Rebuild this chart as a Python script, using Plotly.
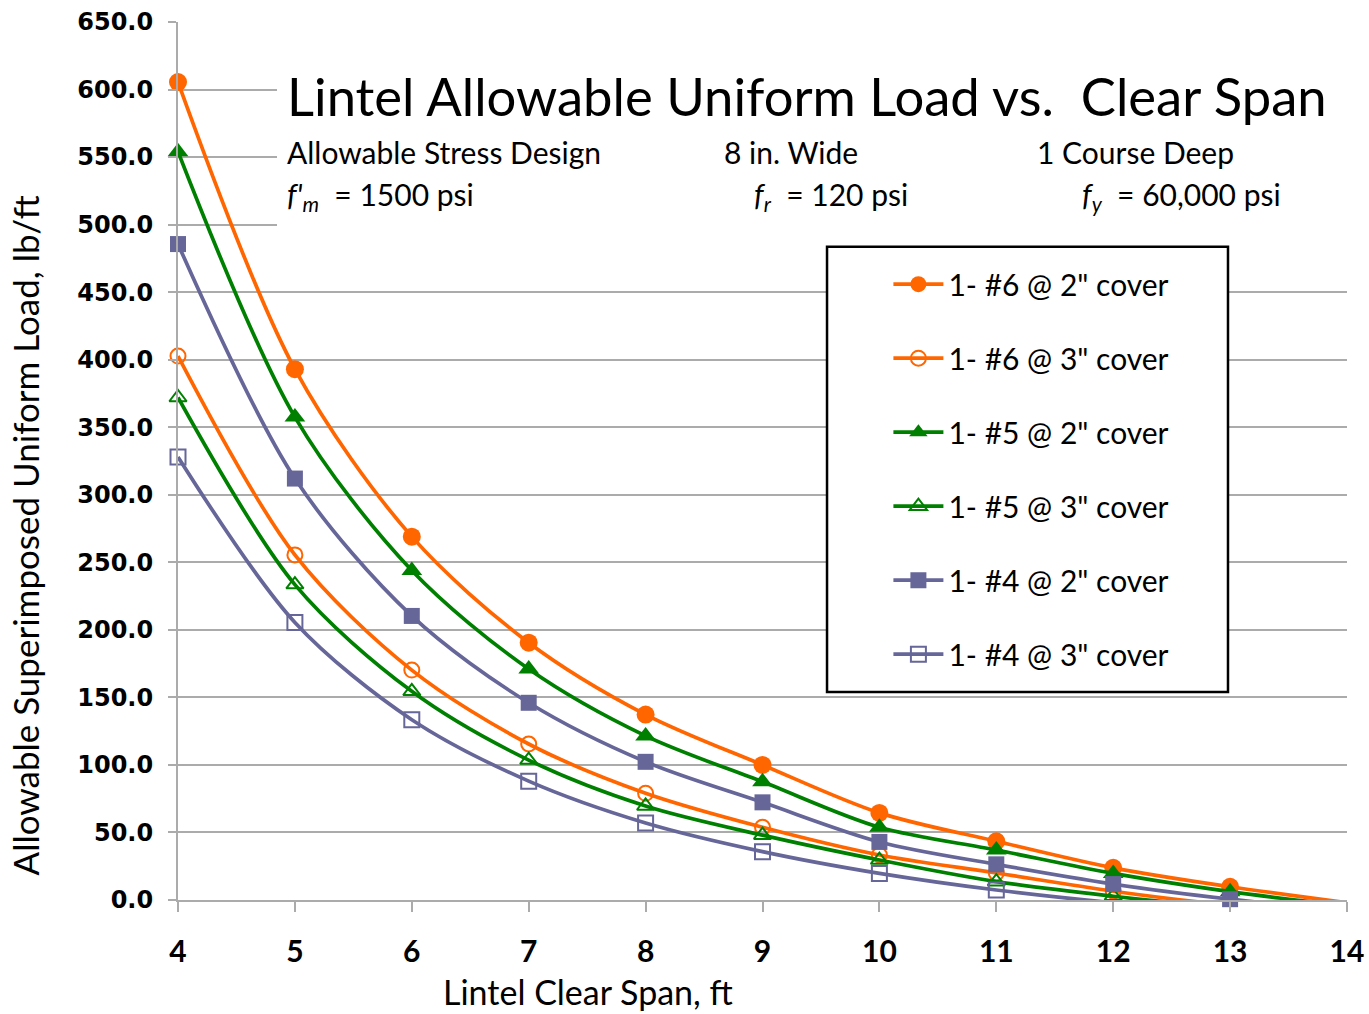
import plotly.graph_objects as go

# span, ft
span = [4, 5, 6, 7, 8, 9, 10, 11, 12, 13, 14]

# allowable superimposed uniform load, lb/ft
bar6_2in = [605.5, 393.0, 269.0, 190.5, 137.3, 100.0, 64.5, 43.5, 23.8, 9.8, -2.0]
bar6_3in = [402.7, 255.5, 170.2, 115.5, 79.0, 53.8, 33.3, 20.0, 6.5, -4.0, -12.0]
bar5_2in = [554.0, 357.5, 244.0, 171.0, 121.5, 87.5, 53.8, 37.0, 19.7, 6.2, -4.4]
bar5_3in = [372.0, 233.5, 154.5, 103.6, 69.6, 48.0, 29.6, 13.6, 2.8, -6.0, -13.0]
bar4_2in = [485.6, 312.0, 210.3, 146.0, 102.3, 72.3, 43.0, 26.4, 11.8, 0.6, -8.0]
bar4_3in = [328.0, 205.5, 133.5, 88.0, 57.0, 35.8, 19.7, 7.4, -2.0, -9.0, -15.0]

names = ['1- #6 @ 2" cover', '1- #6 @ 3" cover', '1- #5 @ 2" cover',
         '1- #5 @ 3" cover', '1- #4 @ 2" cover', '1- #4 @ 3" cover']

ORANGE = "#FF6600"
GREEN = "#008000"
PURPLE = "#666699"

series = [
    (bar6_2in, ORANGE, "circle", 18),
    (bar6_3in, ORANGE, "circle-open", 15),
    (bar5_2in, GREEN, "triangle-up", 18),
    (bar5_3in, GREEN, "triangle-up-open", 15),
    (bar4_2in, PURPLE, "square", 16),
    (bar4_3in, PURPLE, "square-open", 15),
]

fig = go.Figure()
for i, (vals, col, sym, sz) in enumerate(series):
    # hide markers of points that fall below the axis minimum, like Excel does
    mcols = [col if v >= 0 else "rgba(0,0,0,0)" for v in vals]
    fig.add_trace(go.Scatter(
        x=span, y=vals, name=names[i], legendgroup=str(i),
        mode="lines+markers",
        line=dict(color=col, width=3.7, shape="spline", smoothing=0.9),
        marker=dict(symbol=sym, size=sz, color=mcols, line=dict(width=2 if "open" in sym else 0)),
        cliponaxis=False,
    ))

grid = "#ABABAB"
fig.update_layout(
    width=1369, height=1014,
    plot_bgcolor="white", paper_bgcolor="white",
    margin=dict(l=178, r=22, t=22, b=114),
    showlegend=True,
    legend=dict(x=0.6077, y=0.731, xanchor="left", yanchor="top",
                bgcolor="rgba(0,0,0,0)", font=dict(family="Lato", size=30, color="black"),
                tracegroupgap=32, itemwidth=50),
    xaxis=dict(range=[4, 14], tickvals=span, showgrid=False, zeroline=False, automargin=False,
               showline=True, linecolor=grid, linewidth=2,
               ticks="outside", ticklen=10, tickcolor=grid, tickwidth=1.5,
               ticklabelstandoff=14,
               tickfont=dict(family="Lato", size=30, color="black", weight="bold")),
    yaxis=dict(range=[0, 650], dtick=50, tickformat=".1f", showgrid=True, gridcolor=grid,
               gridwidth=1.5, zeroline=False, showline=True, linecolor=grid, linewidth=2,
               automargin=False,
               ticks="outside", ticklen=8, tickcolor=grid, tickwidth=1.5,
               ticklabelstandoff=10,
               tickfont=dict(family="DejaVu Sans", size=24, color="black", weight="bold")),
)

# white title panel and framed legend panel
fig.add_shape(type="rect", xref="paper", yref="paper", x0=0.0847, x1=1.0, y0=0.762, y1=0.957,
              fillcolor="white", line=dict(width=0), layer="above")
fig.add_shape(type="rect", xref="paper", yref="paper", x0=0.5552, x1=0.8982, y0=0.237, y1=0.744,
              fillcolor="white", line=dict(color="black", width=2.5), layer="above")

txt = dict(family="Lato", color="black")
fig.add_annotation(xref="paper", yref="paper", x=0.0915, y=0.916, xanchor="left", yanchor="middle",
                   text="Lintel Allowable Uniform Load vs.  Clear Span", showarrow=False,
                   font=dict(size=52.6, **txt))
fig.add_annotation(xref="paper", yref="paper", x=0.0915, y=0.852, xanchor="left", yanchor="middle",
                   text="Allowable Stress Design", showarrow=False, font=dict(size=30, **txt))
fig.add_annotation(xref="paper", yref="paper", x=0.465, y=0.852, xanchor="left", yanchor="middle",
                   text="8 in. Wide", showarrow=False, font=dict(size=30, **txt))
fig.add_annotation(xref="paper", yref="paper", x=0.733, y=0.852, xanchor="left", yanchor="middle",
                   text="1 Course Deep", showarrow=False, font=dict(size=30, **txt))
fig.add_annotation(xref="paper", yref="paper", x=0.0915, y=0.802, xanchor="left", yanchor="middle",
                   text="<i>f'</i><sub><i>m</i></sub>  = 1500 psi", showarrow=False, font=dict(size=30, **txt))
fig.add_annotation(xref="paper", yref="paper", x=0.491, y=0.802, xanchor="left", yanchor="middle",
                   text="<i>f</i><sub><i>r</i></sub>  = 120 psi", showarrow=False, font=dict(size=30, **txt))
fig.add_annotation(xref="paper", yref="paper", x=0.772, y=0.802, xanchor="left", yanchor="middle",
                   text="<i>f</i><sub><i>y</i></sub>  = 60,000 psi", showarrow=False, font=dict(size=30, **txt))

# axis titles
fig.add_annotation(xref="paper", yref="paper", x=0.351, y=-0.104, xanchor="center", yanchor="middle",
                   text="Lintel Clear Span, ft", showarrow=False, font=dict(size=34, **txt))
fig.add_annotation(xref="paper", yref="paper", x=-0.131, y=0.415, xanchor="center", yanchor="middle",
                   text="Allowable Superimposed Uniform Load, lb/ft", textangle=-90, showarrow=False,
                   font=dict(size=35, **txt))

# drop the page's default body margin so the figure fills the window exactly
fig.write_html("out.html", config={"displayModeBar": False},
               post_script="document.body.style.margin='0';document.body.style.overflow='hidden';")
